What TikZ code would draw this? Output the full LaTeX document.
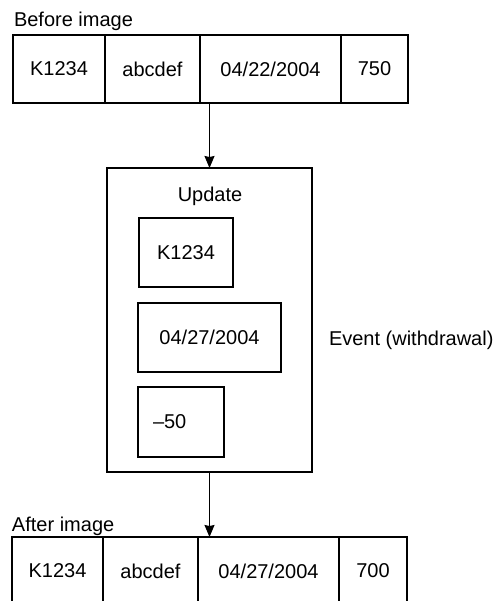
\documentclass[tikz,border=0pt]{standalone}
\usepackage{fontspec}
\setmainfont{Liberation Sans}
\usetikzlibrary{arrows.meta}
\begin{document}
\begin{tikzpicture}[x=1pt,y=-1pt,
  every node/.style={font=\fontsize{20}{24}\selectfont, inner sep=0pt, outer sep=0pt},
  cell/.style={draw, line width=1.2pt, anchor=north west, minimum height=68pt},
  ibox/.style={draw, line width=1.2pt, anchor=north west, minimum height=69pt},
  lbl/.style={anchor=base west},
  arr/.style={line width=1.2pt, -{Stealth[length=12pt,width=10pt,inset=1pt]}}]
\clip (0,0) rectangle (497,601);
% before image
\node[lbl] (blbl) at (14,27) {Before image};
\node[cell, minimum width=92pt]  (t1) at (13,35)  {K1234};
\node[cell, minimum width=95pt]  (t2) at (105,35) {abcdef};
\node[cell, minimum width=141pt] (t3) at (200,35) {04/22/2004};
\node[cell, minimum width=67pt]  (t4) at (341,35) {750};
% update box
\node[draw, line width=1.2pt, anchor=north west, minimum width=205pt, minimum height=304pt] (upd) at (107,168) {};
\node[anchor=base] (updl) at (210,202) {Update};
\node[ibox, minimum width=94pt]  (u1) at (139,218) {K1234};
\node[ibox, minimum width=143pt] (u2) at (138,303) {04/27/2004};
\node[ibox, minimum width=86pt, inner xsep=15pt, text width=56pt, align=left, minimum height=70pt] (u3) at (138,387) {\textendash50};
\node[lbl] (ev) at (329,345) {Event (withdrawal)};
% after image
\node[lbl] (albl) at (12,531) {After image};
\node[cell, minimum width=91pt]  (b1) at (12,537)  {K1234};
\node[cell, minimum width=95pt]  (b2) at (103,537) {abcdef};
\node[cell, minimum width=141pt] (b3) at (198,537) {04/27/2004};
\node[cell, minimum width=68pt]  (b4) at (339,537) {700};
% arrows
\draw[arr] (t3.south -| upd.north) -- (upd.north);
\draw[arr] (upd.south) -- (upd.south |- b3.north);
\end{tikzpicture}
\end{document}
